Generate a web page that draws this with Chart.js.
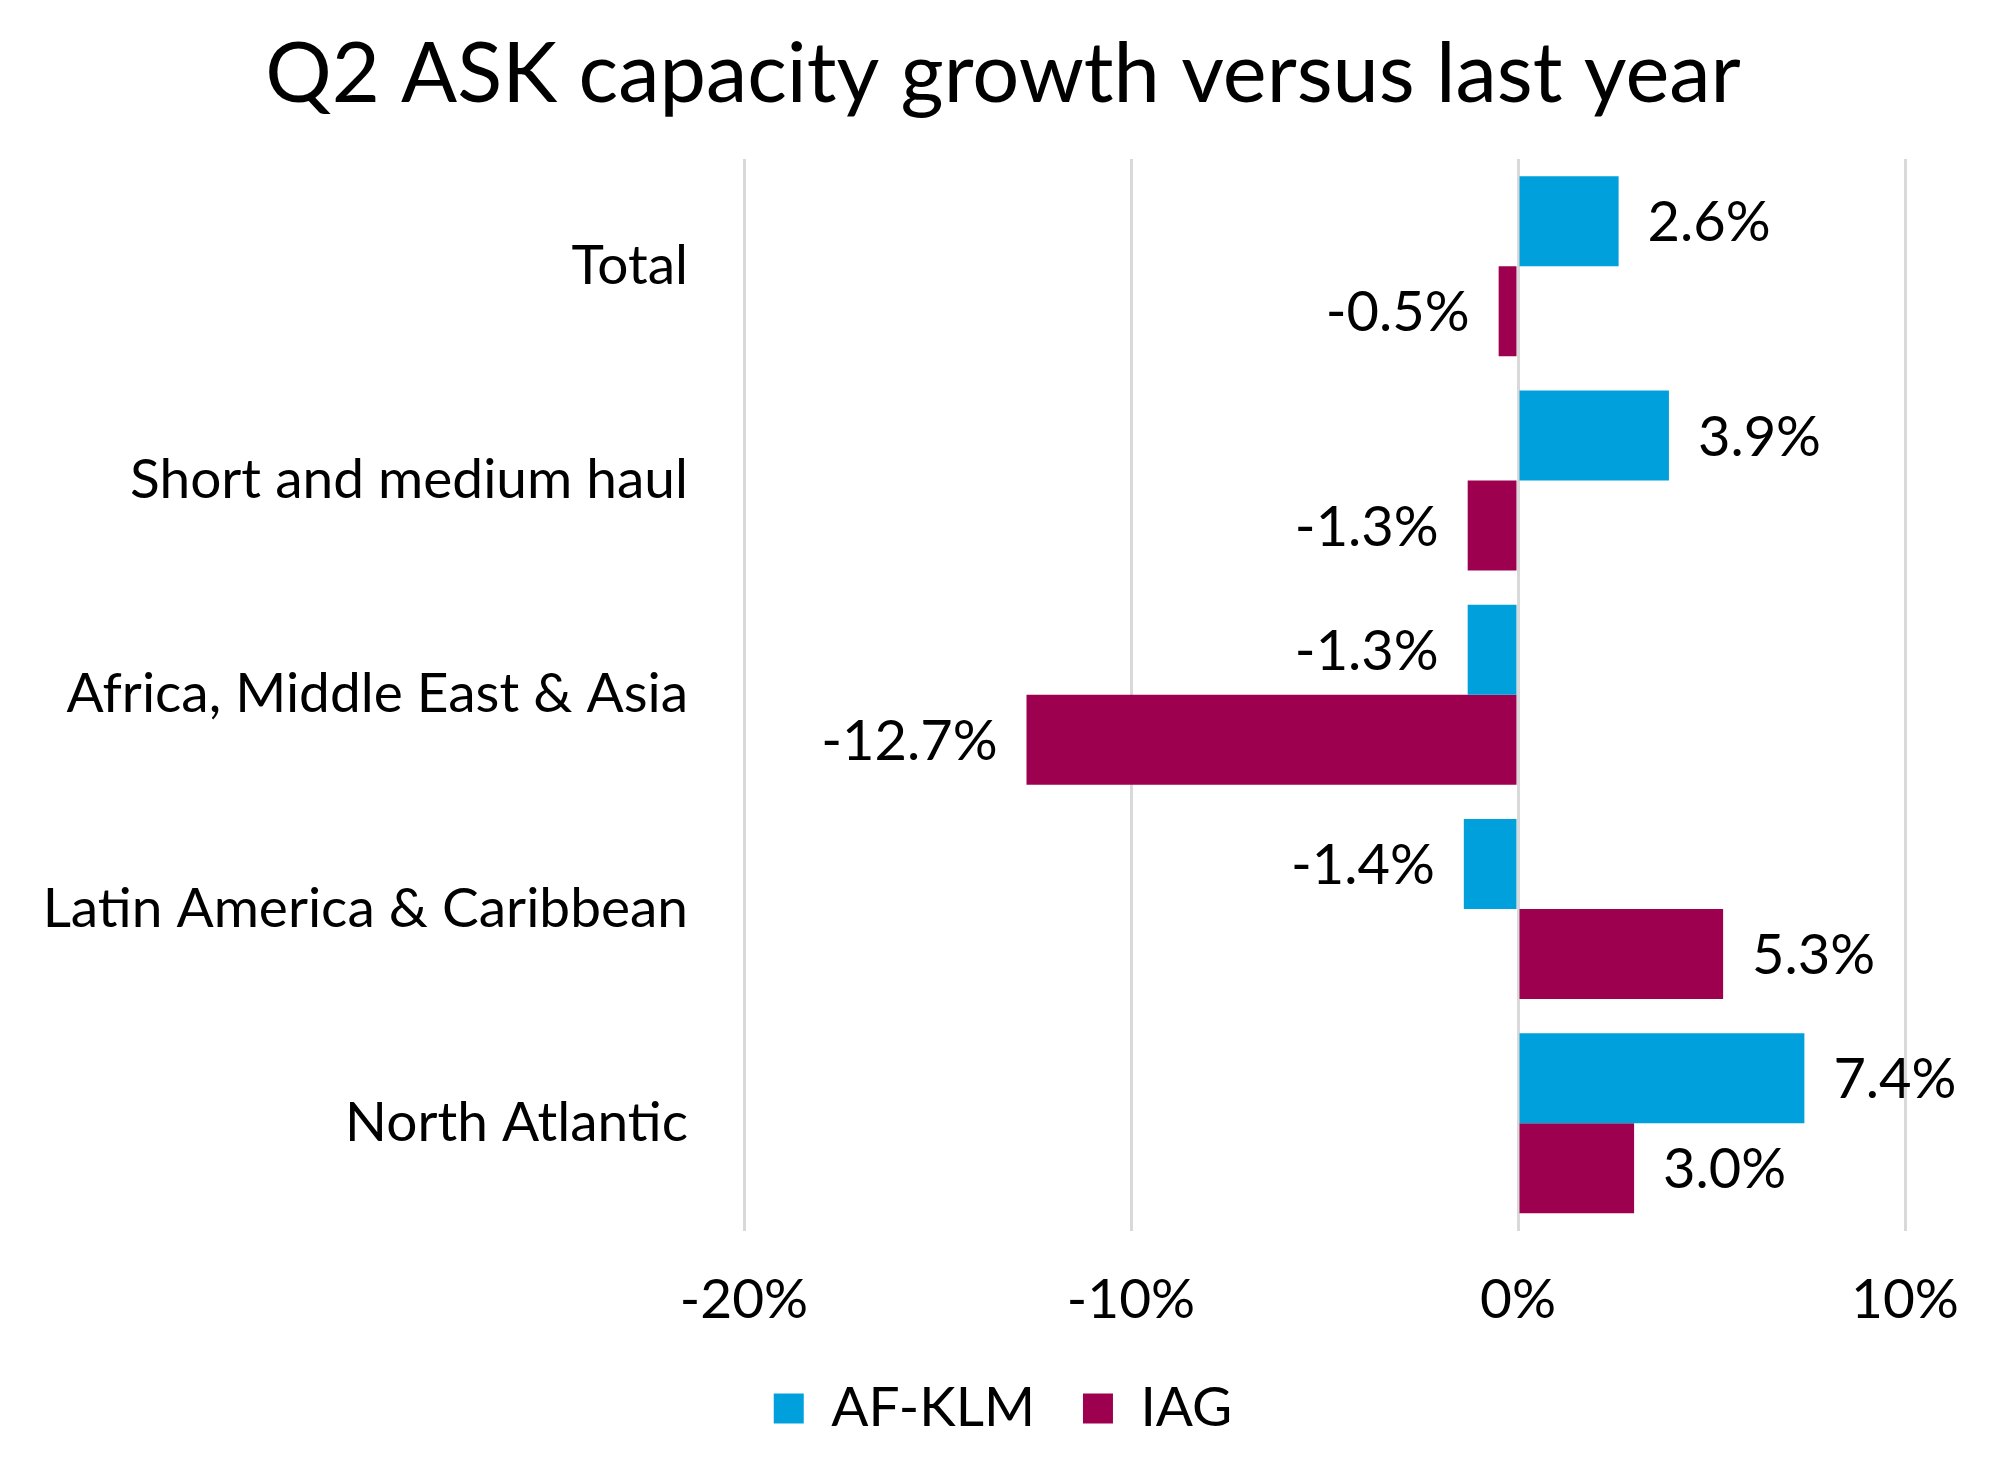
<!DOCTYPE html>
<html>
<head>
<meta charset="utf-8">
<title>Q2 ASK capacity growth versus last year</title>
<script src="https://cdn.jsdelivr.net/npm/chart.js@4"></script>
<style>
  body { margin: 0; background: #fff; }
  canvas { display: block; }
</style>
</head>
<body>
<canvas id="chartID" width="2006" height="1479"></canvas>
<script>
// chart data
const regions = ['Total', 'Short and medium haul', 'Africa, Middle East & Asia', 'Latin America & Caribbean', 'North Atlantic']
const afklm = [2.6, 3.9, -1.3, -1.4, 7.4]
const iag = [-0.5, -1.3, -12.7, 5.3, 3.0]
const seriesNames = ['AF-KLM', 'IAG']
const xTicks = [-20, -10, 0, 10]

const FONT = 'Lato, "Open Sans", sans-serif'

// value labels at the outer end of each bar
const barLabels = {
	id: 'barLabels',
	afterDatasetsDraw(chart) {
		const ctx = chart.ctx
		ctx.save()
		ctx.font = '56px ' + FONT
		ctx.fillStyle = '#000'
		ctx.textBaseline = 'middle'
		chart.data.datasets.forEach(function(ds, i) {
			chart.getDatasetMeta(i).data.forEach(function(bar, j) {
				const v = ds.data[j]
				const txt = v.toFixed(1) + '%'
				if (v >= 0) {
					ctx.textAlign = 'left'
					ctx.fillText(txt, bar.x + 29, bar.y + 2)
				} else {
					ctx.textAlign = 'right'
					ctx.fillText(txt, bar.x - 29, bar.y + 2)
				}
			})
		})
		ctx.restore()
	}
}

window.onload = function() {
	let chartCtx = document.getElementById('chartID').getContext('2d')
	window.barChart = new Chart(chartCtx, {
		type: 'bar',
		data: {
			labels: regions,
			datasets: [
				{
					label: seriesNames[0],
					data: afklm,
					backgroundColor: '#00a0dc',
					borderWidth: 0,
				},
				{
					label: seriesNames[1],
					data: iag,
					backgroundColor: '#9c004e',
					borderWidth: 0,
				},
			],
		},
		plugins: [barLabels],
		options: {
			indexAxis: 'y',
			responsive: false,
			animation: false,
			devicePixelRatio: 1,
			datasets: {
				bar: { barPercentage: 1, categoryPercentage: 0.84 },
			},
			layout: {
				padding: { left: 0, right: 0, top: 0, bottom: 33 },
			},
			scales: {
				x: {
					min: -20,
					max: 10,
					afterBuildTicks: function(scale) {
						scale.ticks = xTicks.map(v => ({ value: v }))
					},
					// fixed height so the legend sits where it should
					afterFit: function(scale) { scale.height = 102.5 },
					grid: { color: '#d9d9d9', lineWidth: 3, drawTicks: false },
					border: { display: false },
					ticks: {
						font: { family: FONT, size: 55 },
						color: '#000',
						padding: 37,
						maxRotation: 0,
						callback: v => v + '%',
					},
				},
				y: {
					afterFit: function(scale) { scale.width = 744 },
					grid: { display: false, drawTicks: false },
					border: { display: false },
					ticks: {
						font: { family: FONT, size: 55 },
						color: '#000',
						padding: 56,
					},
				},
				// empty right axis, only keeps room for the 7.4% label
				y2: {
					type: 'category',
					position: 'right',
					afterFit: function(scale) { scale.width = 101 },
					grid: { display: false, drawTicks: false },
					border: { display: false },
					ticks: { display: false },
				},
			},
			plugins: {
				title: {
					display: true,
					text: 'Q2 ASK capacity growth versus last year',
					color: '#000',
					font: { family: FONT, size: 83, weight: 'normal', lineHeight: 1.2 },
					padding: { top: 25, bottom: 34.4 },
				},
				legend: {
					position: 'bottom',
					labels: {
						font: { family: FONT, size: 55 },
						color: '#000',
						boxWidth: 30,
						boxHeight: 30,
						padding: 48,
					},
				},
				tooltip: { enabled: false },
			},
		},
	})
}
</script>
</body>
</html>
